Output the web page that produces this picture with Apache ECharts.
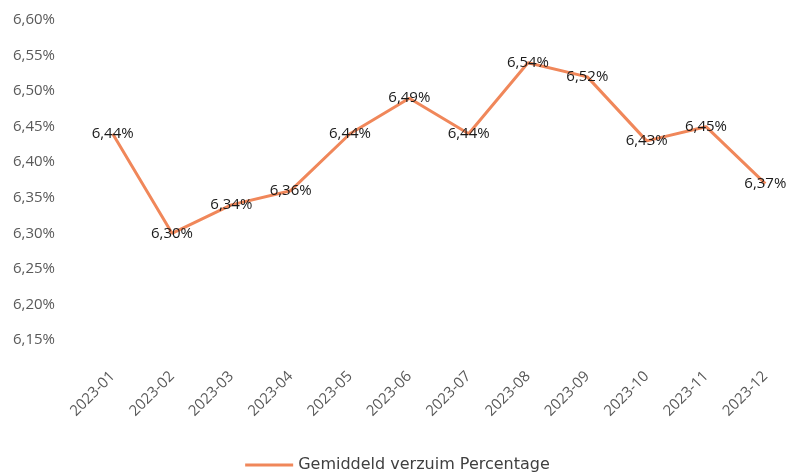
<!DOCTYPE html>
<html>
<head>
<meta charset="utf-8">
<script src="https://cdn.jsdelivr.net/npm/echarts@6/dist/echarts.min.js"></script>
<style>html,body{margin:0;padding:0;background:#fff}#c{width:795px;height:475px}</style>
</head>
<body>
<div id="c"></div>
<script>
const categories = ['2023-01','2023-02','2023-03','2023-04','2023-05','2023-06','2023-07','2023-08','2023-09','2023-10','2023-11','2023-12'];
const verzuim = [6.44, 6.30, 6.34, 6.36, 6.44, 6.49, 6.44, 6.54, 6.52, 6.43, 6.45, 6.37];
const seriesName = 'Gemiddeld verzuim Percentage';
const yMin = 6.15, yMax = 6.60, yStep = 0.05;

const fmt = v => v.toFixed(2).replace('.', ',') + '%';
const chart = echarts.init(document.getElementById('c'));
chart.setOption({
  animation: false,
  backgroundColor: '#fff',
  textStyle: { fontFamily: 'Open Sans, Liberation Sans, sans-serif' },
  grid: { left: 83, top: 20, width: 714, bottom: 135, containLabel: false },
  legend: {
    data: [seriesName], top: 452, left: 'center',
    itemWidth: 48, itemHeight: 3, icon: 'rect', itemGap: 4,
    textStyle: { fontSize: 16, color: '#404040', fontFamily: 'DejaVu Sans, sans-serif' }
  },
  xAxis: {
    type: 'category', data: categories, boundaryGap: true,
    axisLine: { show: false }, axisTick: { show: false },
    axisLabel: { rotate: 45, color: '#595959', fontSize: 15, margin: 34, interval: 0 }
  },
  yAxis: {
    type: 'value', min: yMin, max: yMax, interval: yStep,
    axisLine: { show: false }, axisTick: { show: false }, splitLine: { show: false },
    axisLabel: { color: '#595959', fontSize: 15, align: 'left', margin: 70,
      formatter: v => fmt(v) }
  },
  series: [{
    name: seriesName, type: 'line', data: verzuim,
    symbol: 'circle', symbolSize: 0.1, showSymbol: true,
    lineStyle: { color: '#F0875A', width: 3 },
    itemStyle: { color: '#F0875A' },
    label: { show: true, position: 'inside', color: '#1a1a1a', fontSize: 15,
      formatter: p => fmt(p.value) }
  }]
});
</script>
</body>
</html>
